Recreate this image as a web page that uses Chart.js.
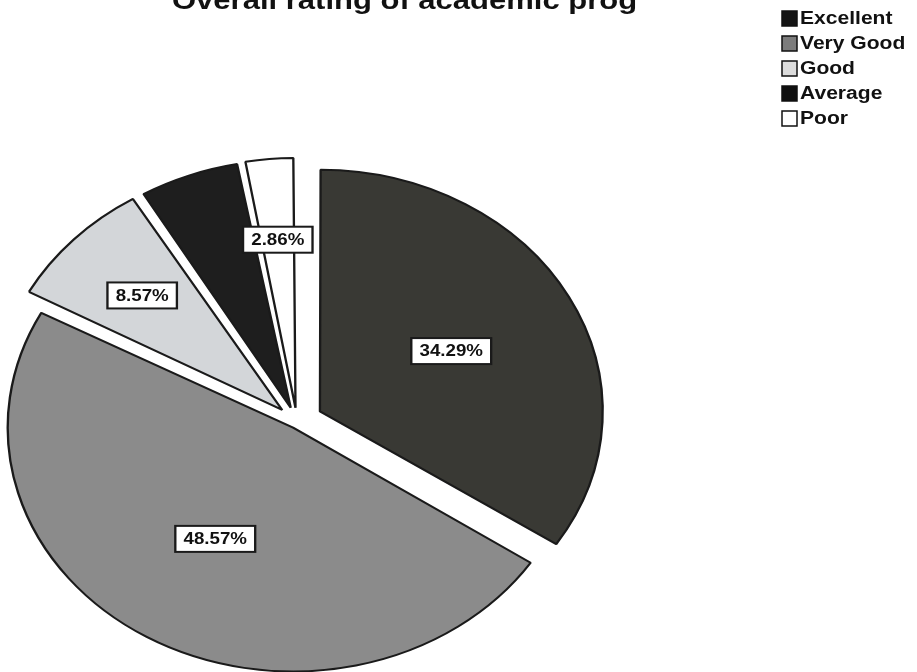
<!DOCTYPE html>
<html><head><meta charset="utf-8">
<script src="https://cdn.jsdelivr.net/npm/chart.js@4/dist/chart.umd.min.js"></script>
<style>html,body{margin:0;padding:0;background:#fff;}canvas{display:block;}</style>
</head><body>
<canvas id="c" width="917" height="672"></canvas>
<script>
const titleText = "Overall rating of academic prog";
const categories = ["Excellent", "Very Good", "Good", "Average", "Poor"];
const percentages = [34.29, 48.57, 8.57, 5.71, 2.86];
const sliceLabels = ["34.29%", "48.57%", "8.57%", "", "2.86%"];
const sliceColors = ["#393934", "#8b8b8b", "#d3d6d9", "#1e1e1e", "#ffffff"];
const legendColors = ["#141414", "#7c7c7c", "#dcdcdc", "#0f0f0f", "#ffffff"];
const explode = [89, 26, 70, 61, 57];

const STRETCH = 1.17;
const FONT = '"Liberation Sans", Arial, sans-serif';

const stretchPlugin = {
  id: 'stretchPie',
  beforeDatasetsDraw(chart) {
    const ctx = chart.ctx;
    const cx = (chart.chartArea.left + chart.chartArea.right) / 2;
    ctx.save();
    ctx.translate(cx, 0);
    ctx.scale(STRETCH, 1);
    ctx.translate(-cx, 0);
  },
  afterDatasetsDraw(chart) {
    const ctx = chart.ctx;
    const meta = chart.getDatasetMeta(0);
    meta.data.forEach((arc, i) => {
      const text = sliceLabels[i];
      if (!text) return;
      const p = arc.getProps(['x', 'y', 'startAngle', 'endAngle', 'outerRadius', 'circumference']);
      const off = (arc.options.offset || 0) / 4;
      const fix = 1 - Math.sin(Math.min(Math.PI, p.circumference || 0));
      const d = off * (1 + fix);
      const half = (p.startAngle + p.endAngle) / 2;
      const frac = percentages[i] > 20 ? 0.52 : 0.66;
      const r = d + frac * p.outerRadius;
      const x = p.x + Math.cos(half) * r;
      const y = p.y + Math.sin(half) * r;
      ctx.font = 'bold 16px ' + FONT;
      const w = ctx.measureText(text).width;
      const bw = w + 14, bh = 26;
      ctx.fillStyle = '#ffffff';
      ctx.fillRect(x - bw / 2, y - bh / 2, bw, bh);
      ctx.strokeStyle = '#1a1a1a';
      ctx.lineWidth = 2;
      ctx.strokeRect(x - bw / 2, y - bh / 2, bw, bh);
      ctx.fillStyle = '#111111';
      ctx.textAlign = 'center';
      ctx.textBaseline = 'middle';
      ctx.fillText(text, x, y + 1);
    });
    ctx.restore();
  },
  afterDraw(chart) {
    const ctx = chart.ctx;
    // title (top partly cut off as in the reference)
    ctx.save();
    ctx.translate(172, 0);
    ctx.scale(STRETCH, 1);
    ctx.font = 'bold 26.5px ' + FONT;
    ctx.fillStyle = '#111111';
    ctx.textAlign = 'left';
    ctx.textBaseline = 'alphabetic';
    ctx.fillText(titleText, 0, 9);
    ctx.restore();
    // legend
    categories.forEach((name, i) => {
      const yc = 18 + i * 25;
      ctx.fillStyle = legendColors[i];
      ctx.fillRect(782, yc - 7, 15, 15);
      ctx.strokeStyle = '#111111';
      ctx.lineWidth = 1.5;
      ctx.strokeRect(782, yc - 7, 15, 15);
      ctx.save();
      ctx.translate(800, yc);
      ctx.scale(STRETCH, 1);
      ctx.font = 'bold 18px ' + FONT;
      ctx.fillStyle = '#111111';
      ctx.textAlign = 'left';
      ctx.textBaseline = 'middle';
      ctx.fillText(name, 0, 1);
      ctx.restore();
    });
  }
};

new Chart(document.getElementById('c').getContext('2d'), {
  type: 'pie',
  data: {
    labels: categories,
    datasets: [{
      data: percentages,
      backgroundColor: sliceColors,
      borderColor: '#1a1a1a',
      borderWidth: 2,
      offset: explode,
      radius: 238,
      clip: false
    }]
  },
  options: {
    responsive: false,
    animation: false,
    events: [],
    layout: { padding: { left: 0, right: 323, top: 172, bottom: 0 } },
    plugins: {
      legend: { display: false },
      title: { display: false },
      tooltip: { enabled: false }
    }
  },
  plugins: [stretchPlugin]
});
</script>
</body></html>
